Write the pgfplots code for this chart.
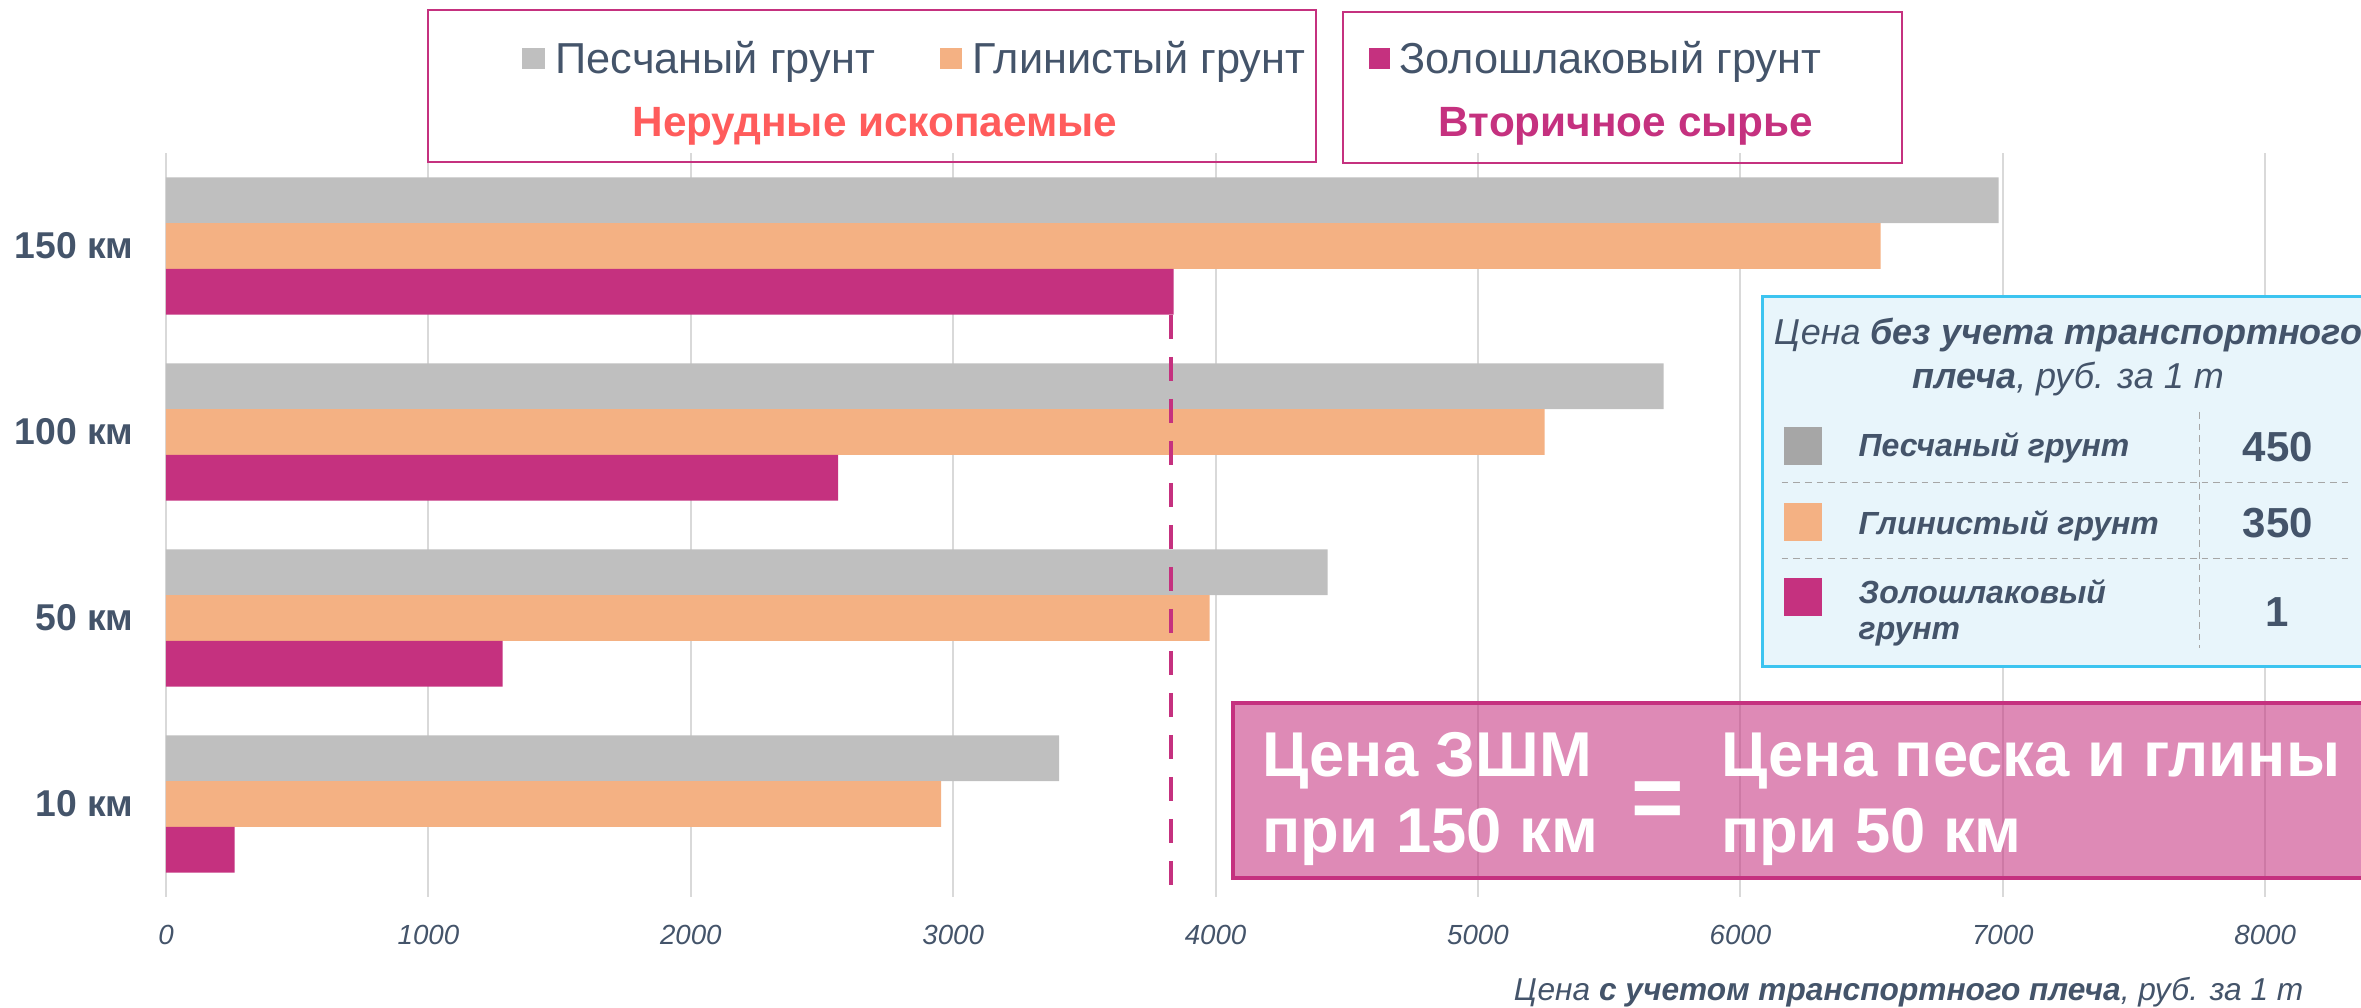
\documentclass[border=0pt]{standalone}
\usepackage{fontspec}
\setmainfont{Liberation Sans}
\usepackage{pgfplots}
\pgfplotsset{compat=1.18}
\definecolor{cGray}{HTML}{BFBFBF}
\definecolor{cOrange}{HTML}{F4B183}
\definecolor{cMag}{HTML}{C5317F}
\definecolor{cText}{HTML}{44546A}
\definecolor{cRed}{HTML}{FF5C5C}
\definecolor{cGrid}{HTML}{D9D9D9}
\definecolor{cTabGray}{HTML}{A6A6A6}
\definecolor{cTabFill}{HTML}{E8F5FB}
\definecolor{cTabBorder}{HTML}{3CC4F0}
\begin{document}
\begin{tikzpicture}
\begin{axis}[
  at={(0,0)}, anchor=south west,
  scale only axis, width=658.5pt, height=223.2pt,
  xmin=0, xmax=8365, ymin=-0.5, ymax=3.5,
  xtick={0,1000,2000,3000,4000,5000,6000,7000,8000},
  ytick={0,1,2,3},
  yticklabels={10 км,50 км,100 км,150 км},
  xmajorgrids, grid style={draw=cGrid, line width=0.6pt},
  axis line style={draw=none},
  major tick length=0pt, tick style={draw=none},
  /pgf/number format/assume math mode=true,
  /pgf/number format/1000 sep={},
  xticklabel style={font=\fontsize{8.3}{9}\selectfont\itshape, text=cText, yshift=-4.8pt},
  yticklabel style={font=\fontsize{11.2}{12}\selectfont\bfseries, text=cText, xshift=-6.2pt},
]
\addplot[xbar, bar width=0.246, bar shift=0.246, fill=cGray, draw=none] coordinates {(3404,0) (4427,1) (5707,2) (6984,3)};
\addplot[xbar, bar width=0.246, bar shift=0, fill=cOrange, draw=none] coordinates {(2954,0) (3977,1) (5254,2) (6534,3)};
\addplot[xbar, bar width=0.246, bar shift=-0.246, fill=cMag, draw=none] coordinates {(262,0) (1283,1) (2561,2) (3840,3)};
\addplot[cMag, line width=1.4pt, dash pattern=on 7.2pt off 5.4pt] coordinates {(3830,2.629) (3830,-0.47)};
\end{axis}
\begin{scope}[shift={(-49.8pt,269.1pt)}, x=0.3pt, y=-0.3pt]
% legend boxes
\draw[cMag, line width=0.8pt] (428,10) rectangle (1316,162);
\draw[cMag, line width=0.8pt] (1343,12) rectangle (1902,163);
\fill[cGray] (521.5,48) rectangle (544.5,69);
\node[anchor=base west, inner sep=0, text=cText, font=\fontsize{13}{14}\selectfont] at (555,74) {Песчаный грунт};
\fill[cOrange] (940,48) rectangle (962,69);
\node[anchor=base west, inner sep=0, text=cText, font=\fontsize{13}{14}\selectfont] at (972,74) {Глинистый грунт};
\fill[cMag] (1368.6,48) rectangle (1389.5,69);
\node[anchor=base west, inner sep=0, text=cText, font=\fontsize{13}{14}\selectfont] at (1398.5,74) {Золошлаковый грунт};
\node[anchor=base, inner sep=0, text=cRed, font=\fontsize{12.7}{14}\selectfont\bfseries] at (875,137) {Нерудные ископаемые};
\node[anchor=base, inner sep=0, text=cMag, font=\fontsize{12.7}{14}\selectfont\bfseries] at (1626,137) {Вторичное сырье};
% table
\fill[cTabFill] (1762,297) rectangle (2400,667);
\draw[cTabBorder, line width=0.9pt] (1762,297) rectangle (2400,667);
\node[anchor=base, inner sep=0, text=cText, font=\fontsize{10.8}{12}\selectfont\itshape] at (2068,345) {Цена \textbf{без учета транспортного}};
\node[anchor=base, inner sep=0, text=cText, font=\fontsize{10.8}{12}\selectfont\itshape] at (2068,389) {\textbf{плеча}, руб. за 1 т};
\draw[gray!70, line width=0.3pt, dash pattern=on 2pt off 1.5pt] (1781.6,483) -- (2353,483);
\draw[gray!70, line width=0.3pt, dash pattern=on 2pt off 1.5pt] (1781.6,559) -- (2353,559);
\draw[gray!70, line width=0.3pt, dash pattern=on 2pt off 1.5pt] (2199,412) -- (2199,648);
\fill[cTabGray] (1783.6,426.7) rectangle (1822,465);
\fill[cOrange] (1783.6,503) rectangle (1822,541);
\fill[cMag] (1783.6,578) rectangle (1822,616);
\node[anchor=base west, inner sep=0, text=cText, font=\fontsize{9.6}{11}\selectfont\bfseries\itshape] at (1858,456.7) {Песчаный грунт};
\node[anchor=base west, inner sep=0, text=cText, font=\fontsize{9.6}{11}\selectfont\bfseries\itshape] at (1858,535) {Глинистый грунт};
\node[anchor=base west, inner sep=0, text=cText, font=\fontsize{9.6}{11}\selectfont\bfseries\itshape] at (1858,603.3) {Золошлаковый};
\node[anchor=base west, inner sep=0, text=cText, font=\fontsize{9.6}{11}\selectfont\bfseries\itshape] at (1858,640) {грунт};
\node[anchor=base, inner sep=0, text=cText, font=\fontsize{12.6}{14}\selectfont\bfseries] at (2278,461.7) {450};
\node[anchor=base, inner sep=0, text=cText, font=\fontsize{12.6}{14}\selectfont\bfseries] at (2278,538) {350};
\node[anchor=base, inner sep=0, text=cText, font=\fontsize{12.6}{14}\selectfont\bfseries] at (2277,626.7) {1};
% pink box
\fill[cMag, fill opacity=0.57] (1233,703) rectangle (2400,878);
\draw[cMag, line width=1pt] (1233,703) rectangle (2400,878);
\node[anchor=base west, inner sep=0, text=white, font=\fontsize{19}{20}\selectfont\bfseries] at (1262,777) {Цена ЗШМ};
\node[anchor=base west, inner sep=0, text=white, font=\fontsize{19}{20}\selectfont\bfseries] at (1262,853) {при 150 км};
\node[inner sep=0, text=white, font=\fontsize{27}{28}\selectfont\bfseries] at (1658,805) {=};
\node[anchor=base west, inner sep=0, text=white, font=\fontsize{19}{20}\selectfont\bfseries] at (1721,777) {Цена песка и глины};
\node[anchor=base west, inner sep=0, text=white, font=\fontsize{19}{20}\selectfont\bfseries] at (1721,853) {при 50 км};
% x axis label
\node[anchor=base east, inner sep=0, text=cText, font=\fontsize{9.5}{11}\selectfont\itshape] at (2304,1001) {Цена \textbf{с учетом транспортного плеча}, руб. за 1 т};
\pgfresetboundingbox
\path[use as bounding box] (0,0) rectangle (2361,1008);
\end{scope}
\end{tikzpicture}
\end{document}
